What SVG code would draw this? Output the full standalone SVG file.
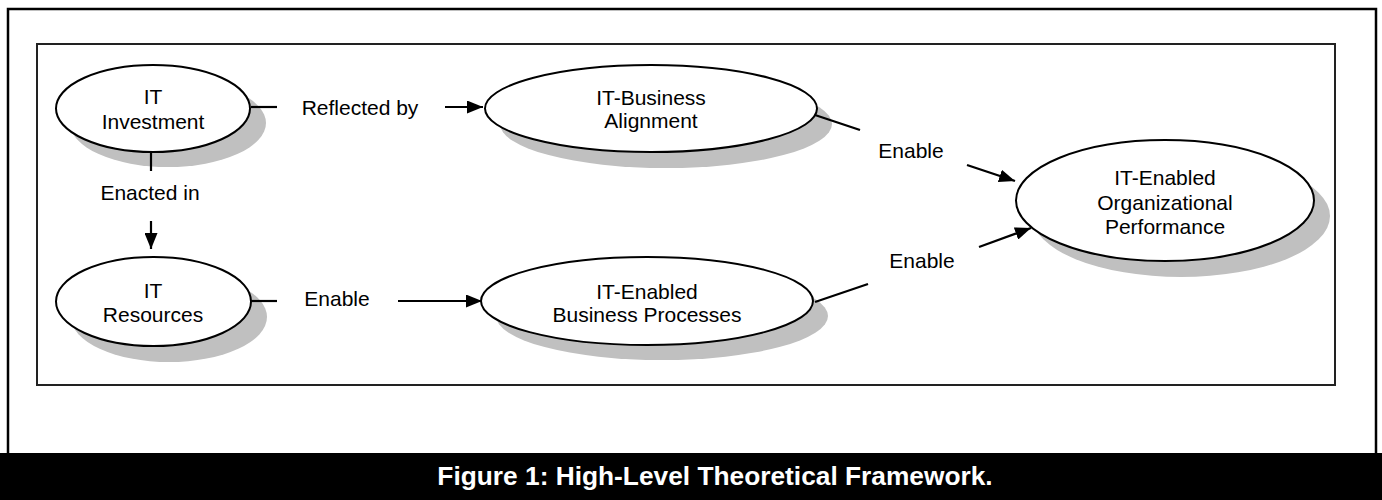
<svg xmlns="http://www.w3.org/2000/svg" width="1382" height="500" viewBox="0 0 1382 500">
<style>
.shadow{fill:#c0c0c0;stroke:none}
.node{fill:#fff;stroke:#000;stroke-width:2}
.t{font-family:"Liberation Sans",Arial,sans-serif;font-size:21px;fill:#000;text-anchor:middle}
.conn line{stroke:#000;stroke-width:2.2}
.cap{font-family:"Liberation Sans",Arial,sans-serif;font-size:26.3px;font-weight:bold;fill:#fff;text-anchor:middle}
</style>
<defs>
<marker id="ah" markerUnits="userSpaceOnUse" markerWidth="17" markerHeight="13" refX="16" refY="6.5" orient="auto">
<path d="M0,0 L16,6.5 L0,13 z" fill="#000"/>
</marker>
</defs>
<rect x="0" y="0" width="1382" height="500" fill="#fff"/>
<rect x="8" y="9" width="1368" height="460" fill="none" stroke="#000" stroke-width="2.5"/>
<rect x="37" y="44" width="1298" height="341" fill="none" stroke="#222" stroke-width="2"/>

<g id="it-investment">
<ellipse class="shadow" cx="168" cy="123" rx="98" ry="44"/>
<ellipse class="node" cx="153" cy="108.5" rx="97" ry="43.5"/>
<text class="t" x="153" y="104">IT</text>
<text class="t" x="153" y="129">Investment</text>
</g>
<g id="it-resources">
<ellipse class="shadow" cx="169" cy="317" rx="98" ry="45"/>
<ellipse class="node" cx="153.5" cy="301.5" rx="97.5" ry="44.5"/>
<text class="t" x="153" y="298">IT</text>
<text class="t" x="153" y="322">Resources</text>
</g>
<g id="it-business-alignment">
<ellipse class="shadow" cx="666" cy="124" rx="166" ry="44"/>
<ellipse class="node" cx="651" cy="108.5" rx="166" ry="43.5"/>
<text class="t" x="651" y="105">IT-Business</text>
<text class="t" x="651" y="128">Alignment</text>
</g>
<g id="it-enabled-business-processes">
<ellipse class="shadow" cx="662" cy="316" rx="166" ry="44"/>
<ellipse class="node" cx="647" cy="301" rx="166" ry="44"/>
<text class="t" x="647" y="299">IT-Enabled</text>
<text class="t" x="647" y="322">Business Processes</text>
</g>
<g id="it-enabled-organizational-performance">
<ellipse class="shadow" cx="1181" cy="216" rx="149" ry="61"/>
<ellipse class="node" cx="1165" cy="200.5" rx="149" ry="60.5"/>
<text class="t" x="1165" y="185">IT-Enabled</text>
<text class="t" x="1165" y="210">Organizational</text>
<text class="t" x="1165" y="234">Performance</text>
</g>

<g id="connectors" class="conn">
<line x1="251" y1="107" x2="277" y2="107"/>
<line x1="445" y1="107" x2="483" y2="107" marker-end="url(#ah)"/>
<line x1="151" y1="152" x2="151" y2="171"/>
<line x1="151" y1="221" x2="151" y2="249" marker-end="url(#ah)"/>
<line x1="251" y1="301" x2="277" y2="301"/>
<line x1="398" y1="301" x2="482" y2="301" marker-end="url(#ah)"/>
<line x1="815" y1="115" x2="860" y2="130"/>
<line x1="967" y1="165" x2="1015" y2="181" marker-end="url(#ah)"/>
<line x1="815" y1="302" x2="868" y2="284"/>
<line x1="979" y1="247" x2="1031" y2="228" marker-end="url(#ah)"/>
</g>
<g id="labels">
<text class="t" x="360" y="115">Reflected by</text>
<text class="t" x="150" y="200">Enacted in</text>
<text class="t" x="337" y="306">Enable</text>
<text class="t" x="911" y="158">Enable</text>
<text class="t" x="922" y="268">Enable</text>
</g>

<rect x="0" y="453" width="1382" height="47" fill="#000"/>
<text class="cap" x="715" y="485">Figure 1: High-Level Theoretical Framework.</text>
</svg>
